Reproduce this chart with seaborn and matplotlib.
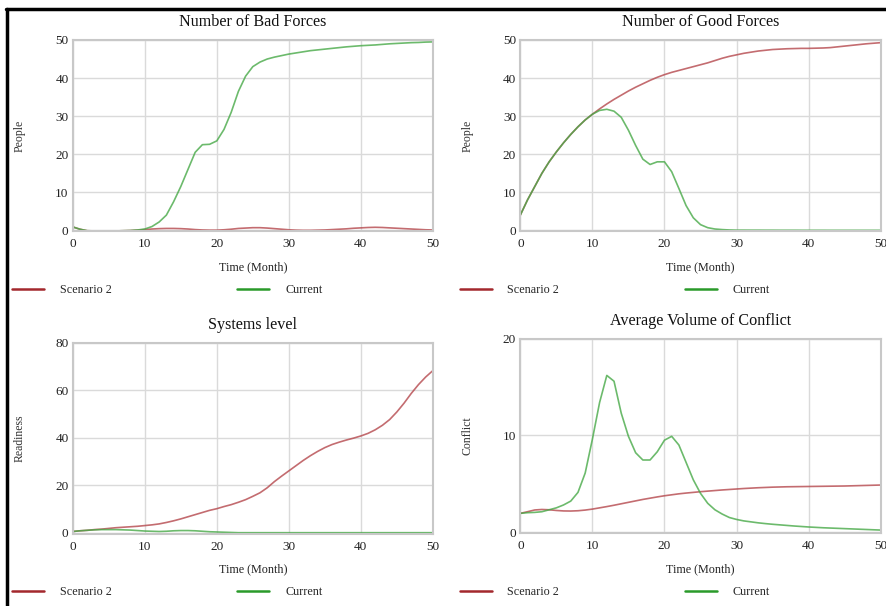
import seaborn as sns
import matplotlib.pyplot as plt
import pandas as pd
import numpy as np
from matplotlib.lines import Line2D

months = list(range(0, 51))

bad_scenario2 = [0.9, 0.3, -0.1, -0.15, -0.15, -0.15, -0.15, -0.1, -0.05, 0.05,
                 0.2, 0.35, 0.45, 0.5, 0.5, 0.45, 0.35, 0.2, 0.1, 0.05,
                 0.05, 0.15, 0.3, 0.5, 0.6, 0.7, 0.7, 0.6, 0.45, 0.3,
                 0.15, 0.05, 0.0, 0.0, 0.05, 0.1, 0.2, 0.3, 0.4, 0.55,
                 0.65, 0.75, 0.8, 0.75, 0.65, 0.55, 0.45, 0.35, 0.25, 0.15, 0.1]
bad_current = [0.9, 0.3, -0.1, -0.15, -0.15, -0.15, -0.15, -0.1, -0.05, 0.1,
               0.35, 1.0, 2.2, 4.0, 7.5, 11.5, 16.0, 20.5, 22.5, 22.6,
               23.5, 26.5, 31.0, 36.5, 40.5, 43.0, 44.2, 45.0, 45.5, 45.9,
               46.3, 46.6, 46.9, 47.2, 47.4, 47.6, 47.8, 48.0, 48.2, 48.35,
               48.5, 48.6, 48.7, 48.85, 49.0, 49.1, 49.2, 49.3, 49.35, 49.45, 49.5]

good_scenario2 = [4.0, 8.0, 11.5, 15.0, 18.0, 20.6, 23.0, 25.2, 27.2, 29.0,
                  30.5, 31.9, 33.2, 34.4, 35.5, 36.6, 37.6, 38.5, 39.4, 40.2,
                  40.9, 41.5, 42.0, 42.5, 43.0, 43.5, 44.0, 44.6, 45.2, 45.7,
                  46.1, 46.5, 46.8, 47.1, 47.3, 47.5, 47.6, 47.7, 47.75, 47.8,
                  47.8, 47.85, 47.9, 48.0, 48.2, 48.4, 48.6, 48.8, 49.0, 49.15, 49.3]
good_current = [4.0, 8.0, 11.5, 15.0, 18.0, 20.6, 23.0, 25.2, 27.2, 29.0,
                30.5, 31.5, 31.8, 31.3, 29.7, 26.3, 22.3, 18.7, 17.3, 18.0,
                18.0, 15.4, 11.0, 6.5, 3.3, 1.5, 0.7, 0.35, 0.2, 0.1,
                0.05, 0.05, 0.04, 0.04, 0.03, 0.03, 0.02, 0.02, 0.02, 0.01,
                0.01, 0.01, 0.01, 0.0, 0.0, 0.0, 0.0, 0.0, 0.0, 0.0, 0.0]

systems_scenario2 = [0.5, 0.8, 1.0, 1.3, 1.5, 1.8, 2.1, 2.3, 2.5, 2.7,
                     3.0, 3.3, 3.7, 4.3, 5.0, 5.8, 6.7, 7.6, 8.5, 9.4,
                     10.1, 11.0, 11.8, 12.8, 13.9, 15.3, 16.8, 18.9, 21.5, 23.8,
                     26.0, 28.2, 30.4, 32.4, 34.2, 35.8, 37.1, 38.1, 39.0, 39.8,
                     40.7, 41.8, 43.3, 45.2, 47.6, 50.8, 54.5, 58.6, 62.3, 65.5, 68.2]
systems_current = [0.5, 0.8, 1.0, 1.2, 1.3, 1.3, 1.3, 1.2, 1.1, 0.9,
                   0.7, 0.6, 0.5, 0.6, 0.8, 0.9, 0.9, 0.8, 0.6, 0.4,
                   0.3, 0.2, 0.1, 0.0, 0.0, 0.0, 0.0, 0.0, 0.0, 0.0,
                   0.0, 0.0, 0.0, 0.0, 0.0, 0.0, 0.0, 0.0, 0.0, 0.0,
                   0.0, 0.0, 0.0, 0.0, 0.0, 0.0, 0.0, 0.0, 0.0, 0.0, 0.0]

conflict_scenario2 = [1.93, 2.1, 2.28, 2.33, 2.3, 2.23, 2.18, 2.17, 2.2, 2.27,
                      2.37, 2.5, 2.63, 2.77, 2.92, 3.07, 3.22, 3.37, 3.5, 3.63,
                      3.75, 3.85, 3.95, 4.03, 4.1, 4.17, 4.23, 4.29, 4.35, 4.4,
                      4.45, 4.5, 4.54, 4.58, 4.61, 4.64, 4.66, 4.68, 4.69, 4.7,
                      4.71, 4.72, 4.73, 4.74, 4.75, 4.76, 4.78, 4.8, 4.82, 4.84, 4.86]
conflict_current = [1.93, 2.0, 2.03, 2.1, 2.3, 2.5, 2.8, 3.2, 4.1, 6.1,
                    9.6, 13.4, 16.2, 15.6, 12.3, 9.9, 8.2, 7.45, 7.45, 8.3,
                    9.5, 9.9, 9.0, 7.2, 5.4, 4.0, 2.97, 2.3, 1.86, 1.5,
                    1.3, 1.15, 1.05, 0.95, 0.87, 0.8, 0.74, 0.68, 0.62, 0.57,
                    0.52, 0.48, 0.44, 0.41, 0.38, 0.35, 0.32, 0.29, 0.26, 0.23, 0.2]

panels = [
    ("Number of Bad Forces", "People", bad_scenario2, bad_current, [0, 10, 20, 30, 40, 50], (-0.3, 50)),
    ("Number of Good Forces", "People", good_scenario2, good_current, [0, 10, 20, 30, 40, 50], (-0.3, 50)),
    ("Systems level", "Readiness", systems_scenario2, systems_current, [0, 20, 40, 60, 80], (-0.5, 80)),
    ("Average Volume of Conflict", "Conflict", conflict_scenario2, conflict_current, [0, 10, 20], (-0.1, 20)),
]

# axes rectangles in figure fractions
rects = [
    [0.082, 0.618, 0.406, 0.316],
    [0.5866, 0.618, 0.4063, 0.316],
    [0.082, 0.119, 0.406, 0.3157],
    [0.5866, 0.1205, 0.4063, 0.3206],
]

sns.set_theme(style="whitegrid")
plt.rcParams['font.family'] = ['Liberation Serif', 'DejaVu Serif']

line_colors = {"Scenario 2": "#b5474c", "Current": "#47a947"}
legend_colors = {"Scenario 2": "#a3282d", "Current": "#2a9a2a"}

fig = plt.figure(figsize=(8.87, 6.06), dpi=100)

for (title, ylab, s2, cur, yticks, ylim), rect in zip(panels, rects):
    ax = fig.add_axes(rect)
    df = pd.DataFrame({
        "month": months + months,
        "value": s2 + cur,
        "run": ["Scenario 2"] * len(months) + ["Current"] * len(months),
    })
    sns.lineplot(data=df, x="month", y="value", hue="run", palette=line_colors,
                 linewidth=1.2, alpha=0.8, legend=False, ax=ax)
    ax.set_xlim(0, 50)
    ax.set_ylim(*ylim)
    ax.set_xticks([0, 10, 20, 30, 40, 50])
    ax.set_yticks(yticks)
    ax.tick_params(length=0, labelsize=9.5, colors="#222222")
    ax.tick_params(axis="x", pad=5)
    ax.tick_params(axis="y", pad=3)
    ax.grid(True, color="#dadada", linewidth=1.0)
    for sp in ax.spines.values():
        sp.set_color("#c8c8c8")
        sp.set_linewidth(1.5)
    ax.set_title(title, fontsize=11.6, pad=10, color="#111111")
    ax.set_xlabel("Time (Month)", fontsize=8.7, color="#222222")
    ax.xaxis.set_label_coords(0.5, -0.155)
    ax.set_ylabel(ylab, fontsize=8.5, color="#333333")
    ax.yaxis.set_label_coords(-0.13, 0.5)

    handles = [Line2D([], [], color=legend_colors[k], linewidth=1.8) for k in ["Scenario 2", "Current"]]
    ax.legend(handles, ["Scenario 2", "Current"], loc="center left",
              bbox_to_anchor=(-0.168, -0.305), ncol=2, frameon=False,
              fontsize=8.7, handlelength=2.65, handletextpad=1.3,
              columnspacing=10.4, borderaxespad=0, borderpad=0)

# black frame lines at top and left of the screenshot
fig.add_artist(Line2D([0.007, 1.0], [0.985, 0.985], color="black", linewidth=2.5,
                      transform=fig.transFigure))
fig.add_artist(Line2D([0.008, 0.008], [0.0, 0.985], color="black", linewidth=2.5,
                      transform=fig.transFigure))

fig.savefig("out.png", dpi=100)
